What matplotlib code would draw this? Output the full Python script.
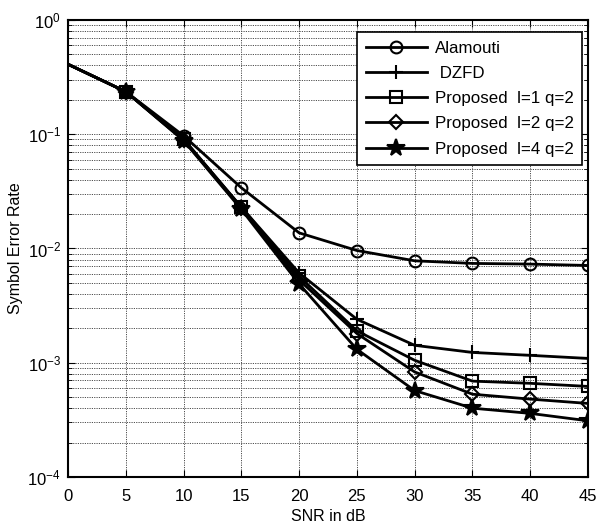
import matplotlib
matplotlib.use("Agg")
import matplotlib.pyplot as plt
from matplotlib.ticker import LogLocator, FixedLocator, NullFormatter

plt.rcParams['font.family'] = ['Liberation Sans', 'DejaVu Sans']
plt.rcParams['mathtext.default'] = 'regular'

# SNR points and symbol error rates
snr_db = [0, 5, 10, 15, 20, 25, 30, 35, 40, 45]
ser_alamouti = [0.41, 0.236, 0.097, 0.034, 0.0137, 0.0096, 0.0078, 0.0074, 0.0073, 0.0071]
ser_dzfd = [0.41, 0.236, 0.091, 0.023, 0.0061, 0.0024, 0.00142, 0.00123, 0.00116, 0.00109]
ser_l1 = [0.41, 0.236, 0.090, 0.023, 0.0057, 0.0019, 0.00105, 0.00069, 0.00066, 0.00062]
ser_l2 = [0.41, 0.236, 0.089, 0.0225, 0.0053, 0.0018, 0.00083, 0.00053, 0.00048, 0.00044]
ser_l4 = [0.41, 0.236, 0.088, 0.022, 0.0049, 0.00131, 0.00057, 0.00040, 0.00036, 0.00031]

series = [
    (ser_alamouti, 'o', 'none', 8.5, 'Alamouti'),
    (ser_dzfd, '+', 'k', 10, ' DZFD'),
    (ser_l1, 's', 'none', 8.5, 'Proposed  l=1 q=2'),
    (ser_l2, 'D', 'none', 7, 'Proposed  l=2 q=2'),
    (ser_l4, '*', 'k', 13, 'Proposed  l=4 q=2'),
]

fig = plt.figure(figsize=(5.98, 5.27), dpi=100)
ax = fig.add_axes([0.1137, 0.095, 0.8696, 0.867])

# markers only from 5 dB on, as in the original
for vals, mk, fc, ms, lab in series:
    ax.semilogy(snr_db, vals, color='k', lw=2, marker=mk, markerfacecolor=fc,
                markeredgecolor='k', markeredgewidth=1.5, markersize=ms,
                markevery=list(range(1, len(snr_db))), label=lab)

ax.set_xlim(0, 45)
ax.set_ylim(1e-4, 1)
ax.xaxis.set_major_locator(FixedLocator(snr_db))
ax.yaxis.set_major_locator(LogLocator(base=10, numticks=10))
ax.yaxis.set_minor_locator(LogLocator(base=10, subs=range(2, 10), numticks=10))
ax.yaxis.set_minor_formatter(NullFormatter())

grid_style = dict(color='0.3', linestyle=(0, (1.2, 1.2)), linewidth=0.7)
ax.grid(True, which='major', axis='both', **grid_style)
ax.grid(True, which='minor', axis='y', **grid_style)

ax.tick_params(which='both', direction='in', top=True, right=True, labelsize=12)
ax.tick_params(which='major', length=5, pad=5)
ax.tick_params(axis='x', which='major', pad=9)
ax.tick_params(which='minor', length=3)
for s in ax.spines.values():
    s.set_linewidth(1.5)

ax.set_xlabel('SNR in dB', fontsize=11.5, labelpad=3)
ax.set_ylabel('Symbol Error Rate', fontsize=11.5, labelpad=3)

leg = ax.legend(loc='upper right', bbox_to_anchor=(0.9885, 0.973), fontsize=12.2,
                handlelength=3.6, handletextpad=0.45, labelspacing=0.6,
                borderpad=0.5, borderaxespad=0, fancybox=False, framealpha=1,
                edgecolor='k')
leg.get_frame().set_linewidth(1.2)

fig.savefig('out.png', dpi=100)
